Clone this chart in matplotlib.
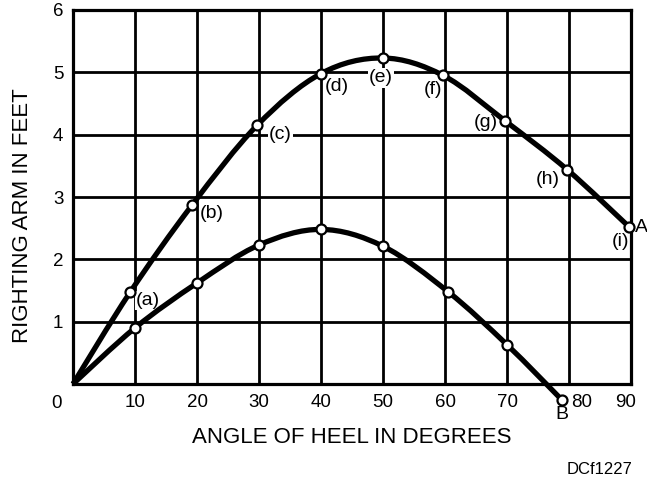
import matplotlib
matplotlib.use("Agg")
import matplotlib.pyplot as plt
import numpy as np
from matplotlib.path import Path
from matplotlib.patches import PathPatch
from matplotlib.transforms import ScaledTranslation

plt.rcParams["font.family"] = ["Liberation Sans", "DejaVu Sans"]

# righting arm curves (angle of heel in degrees, righting arm in feet)
curve_a_angle = [0, 9.2, 19.2, 29.7, 40, 50, 59.7, 69.7, 79.7, 89.7]
curve_a_arm = [0, 1.47, 2.87, 4.15, 4.98, 5.23, 4.95, 4.22, 3.44, 2.52]
curve_a_tags = ["(a)", "(b)", "(c)", "(d)", "(e)", "(f)", "(g)", "(h)", "(i)"]

curve_b_angle = [0, 10, 20, 30, 40, 50, 60.5, 70, 78.9]
curve_b_arm = [0, 0.9, 1.62, 2.23, 2.48, 2.21, 1.48, 0.63, -0.26]

x_ticks = [10, 20, 30, 40, 50, 60, 70, 80, 90]
y_ticks = [1, 2, 3, 4, 5, 6]

# where each tag sits relative to its point, in pixels
tag_offsets = [(18, -8), (20, -8), (23, -9), (16, -13), (-2, -20),
               (-10, -14), (-19, -2), (-19, -10), (-9, -15)]


def smooth_path(xs, ys):
    """Catmull-Rom style bezier path through the points."""
    pts = np.column_stack([xs, ys]).astype(float)
    verts = [pts[0]]
    codes = [Path.MOVETO]
    n = len(pts)
    for i in range(n - 1):
        p0 = pts[i - 1] if i > 0 else pts[i]
        p1, p2 = pts[i], pts[i + 1]
        p3 = pts[i + 2] if i + 2 < n else pts[i + 1]
        verts += [p1 + (p2 - p0) / 6, p2 - (p3 - p1) / 6, p2]
        codes += [Path.CURVE4] * 3
    return Path(verts, codes)


fig = plt.figure(figsize=(6.47, 4.8), dpi=100)
ax = fig.add_axes([73 / 647, 96 / 480, 558 / 647, 374 / 480])
ax.set_xlim(0, 90)
ax.set_ylim(0, 6)

ax.set_xticks(x_ticks)
ax.set_yticks(y_ticks)
ax.set_xticklabels([str(v) for v in x_ticks])
ax.set_yticklabels([str(v) for v in y_ticks])
ax.tick_params(length=0, labelsize=13.5, colors="black")
ax.tick_params(axis="x", pad=7)
ax.tick_params(axis="y", pad=7)
ax.grid(True, color="black", lw=2.0)
ax.set_axisbelow(True)
for sp in ax.spines.values():
    sp.set_linewidth(2.3)
    sp.set_zorder(2.9)

# nudge the 80 and 90 labels like the printed chart
for lab, dx in zip(ax.get_xticklabels(), [0, 0, 0, 0, 0, 0, 0, 13, -5]):
    if dx:
        lab.set_transform(lab.get_transform() + ScaledTranslation(dx / 100, 0, fig.dpi_scale_trans))

ax.annotate("0", xy=(0, 0), xytext=(-16, -19), textcoords="offset pixels",
            ha="center", va="center", fontsize=13.5)

for xs, ys in [(curve_a_angle, curve_a_arm), (curve_b_angle, curve_b_arm)]:
    ax.add_patch(PathPatch(smooth_path(xs, ys), fill=False, lw=3.8,
                           edgecolor="black", clip_on=False, zorder=3))
    ax.plot(xs[1:], ys[1:], "o", ms=7.2, mfc="white", mec="black", mew=1.6,
            clip_on=False, zorder=4)

# tags sit under the curves and frame but hide the grid behind them
for x, y, tag, (dx, dy) in zip(curve_a_angle[1:], curve_a_arm[1:], curve_a_tags, tag_offsets):
    ax.annotate(tag, xy=(x, y), xytext=(dx, dy), textcoords="offset pixels",
                ha="center", va="center", fontsize=14, zorder=2.8,
                bbox=dict(facecolor="white", edgecolor="none", pad=0.8))

ax.annotate("A", xy=(curve_a_angle[-1], curve_a_arm[-1]), xytext=(6, -1),
            textcoords="offset pixels", ha="left", va="center", fontsize=14,
            annotation_clip=False)
ax.annotate("B", xy=(curve_b_angle[-1], curve_b_arm[-1]), xytext=(0, -14),
            textcoords="offset pixels", ha="center", va="center", fontsize=14,
            annotation_clip=False)

ax.set_xlabel("ANGLE OF HEEL IN DEGREES", fontsize=16)
ax.set_ylabel("RIGHTING ARM IN FEET", fontsize=16)
ax.xaxis.set_label_coords(0.5, -0.115)
ax.yaxis.set_label_coords(-0.072, 0.45)

fig.text(633 / 647, 1 - 470 / 480, "DCf1227", ha="right", va="center", fontsize=12)

fig.savefig("out.png", dpi=100, facecolor="white")
